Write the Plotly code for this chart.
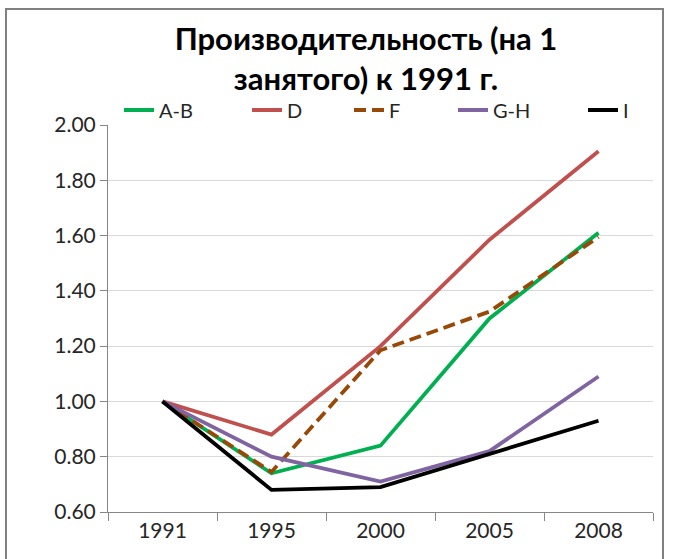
import plotly.graph_objects as go

years = ["1991", "1995", "2000", "2005", "2008"]
series_names = ["A-B", "D", "F", "G-H", "I"]
ab = [1.00, 0.74, 0.84, 1.30, 1.61]
d = [1.00, 0.88, 1.20, 1.585, 1.905]
f = [1.00, 0.745, 1.185, 1.325, 1.595]
gh = [1.00, 0.80, 0.71, 0.82, 1.09]
i_vals = [1.00, 0.68, 0.69, 0.81, 0.93]
y_ticks = [0.6, 0.8, 1.0, 1.2, 1.4, 1.6, 1.8, 2.0]

values = [ab, d, f, gh, i_vals]
colors = ["#00B050", "#C0504D", "#984807", "#8064A2", "#000000"]
dashes = ["solid", "solid", "12px,6px", "solid", "solid"]

FONT = "Lato, Carlito, Calibri, sans-serif"
PL, PR, PT, PB = 108, 653, 125, 512
PW, PH = PR - PL, PB - PT

legend_text_x = [158, 286, 388, 492, 622]
legend_ids = ["legend", "legend2", "legend3", "legend4", "legend5"]

fig = go.Figure()
for name, vals, col, dsh, lid in zip(series_names, values, colors, dashes, legend_ids):
    fig.add_trace(go.Scatter(
        x=years, y=vals, name=name, mode="lines",
        line=dict(color=col, width=3.8, dash=dsh),
        legend=lid,
    ))

legend_layout = {}
for lid, tx in zip(legend_ids, legend_text_x):
    legend_layout[lid] = dict(
        orientation="h", x=(tx - 39 - PL) / PW, xanchor="left",
        y=(PB - 110) / PH, yanchor="middle",
        font=dict(family=FONT, size=20, color="#262626"),
        bgcolor="rgba(0,0,0,0)", itemwidth=30,
    )

fig.update_layout(
    width=673, height=559,
    margin=dict(l=PL, r=673 - PR, t=PT, b=559 - PB, autoexpand=False),
    paper_bgcolor="white", plot_bgcolor="white",
    font=dict(family=FONT, size=20, color="#262626"),
    title=dict(
        text="Производительность (на 1<br>занятого) к 1991 г.",
        font=dict(family=FONT, size=31, color="#000000", weight="bold"),
        x=366 / 673, xanchor="center", xref="container",
        y=1 - 50 / 559, yanchor="top", yref="container",
    ),
    showlegend=True,
    xaxis=dict(
        type="category", showgrid=False,
        showline=True, linecolor="#868686", linewidth=1,
        ticks="outside", tickson="boundaries", ticklen=8, tickcolor="#868686",
        tickfont=dict(family=FONT, size=21, color="#262626"),
        range=[-0.5, 4.5],
    ),
    yaxis=dict(
        range=[0.6, 2.0], tickvals=y_ticks, tickformat=".2f",
        showgrid=True, gridcolor="#D9D9D9", gridwidth=1,
        showline=True, linecolor="#868686", linewidth=1,
        ticks="outside", ticklen=7, tickcolor="#868686",
        tickfont=dict(family=FONT, size=21, color="#262626"),
        zeroline=False,
    ),
    shapes=[dict(
        type="rect", xref="paper", yref="paper",
        x0=(6 - PL) / PW, x1=(663 - PL) / PW,
        y0=-0.3, y1=(PB - 9) / PH,
        line=dict(color="#808080", width=2), fillcolor="rgba(0,0,0,0)",
        layer="below",
    )],
    **legend_layout,
)

fig.write_html("out.html",
               config={"displayModeBar": False},
               post_script="document.body.style.margin='0px';document.body.style.overflow='hidden';")
